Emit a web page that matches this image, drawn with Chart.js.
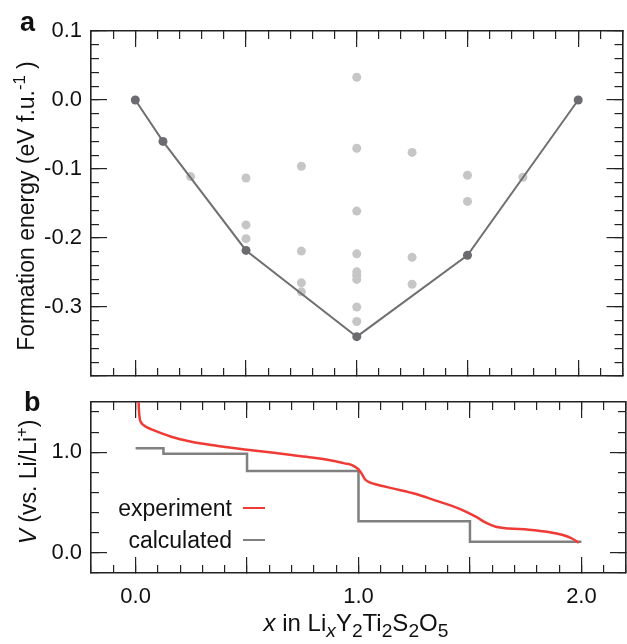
<!DOCTYPE html>
<html>
<head>
<meta charset="utf-8">
<script src="https://cdn.jsdelivr.net/npm/chart.js@4.4.1/dist/chart.umd.min.js"></script>
<style>
html,body{margin:0;padding:0;background:#fff;}
#wrap{position:relative;width:627px;height:644px;overflow:hidden;font-family:'Liberation Sans',Arial,Helvetica,sans-serif;color:#111;}
canvas{position:absolute;left:0;}
.t{position:absolute;white-space:nowrap;line-height:1;}
.rot{transform:translate(-50%,-50%) rotate(-90deg);}
.leg{position:absolute;white-space:nowrap;line-height:1;font-size:23px;text-align:right;}
.sw{position:absolute;height:0;}
sub,sup{font-size:0.72em;line-height:0;}
.xt sub{font-size:0.8em;}
</style>
</head>
<body>
<div id="wrap">
<canvas id="ca" width="627" height="390" style="top:0;width:627px;height:390px"></canvas>
<canvas id="cb" width="627" height="254" style="top:390px;width:627px;height:254px"></canvas>

<div class="t" style="left:20px;top:9px;font-weight:bold;font-size:27px;">a</div>
<div class="t" style="left:24px;top:389px;font-weight:bold;font-size:27px;">b</div>

<div class="t rot" style="left:26px;top:206px;font-size:23px;">Formation energy (eV f.u.<sup>-1</sup> )</div>
<div class="t rot" style="left:28px;top:482px;font-size:23px;"><i>V</i> (vs. Li/Li<sup>+</sup>)</div>
<div class="t xt" style="left:356px;top:611px;font-size:24px;transform:translateX(-50%);"><i>x</i> in Li<sub><i>x</i></sub>Y<sub>2</sub>Ti<sub>2</sub>S<sub>2</sub>O<sub>5</sub></div>

<div class="leg" style="right:395px;top:497px;">experiment</div>
<div class="sw" style="left:243px;width:22px;top:507px;border-top:2.5px solid #f03a35;"></div>
<div class="leg" style="right:395px;top:529px;">calculated</div>
<div class="sw" style="left:243px;width:22px;top:539px;border-top:2.5px solid #808080;"></div>
</div>

<script>
// ---------- data ----------
// panel a: convex hull (formation energy, eV per f.u.)
const hullX = [0, 0.125, 0.5, 1.0, 1.5, 2.0];
const hullE = [0, -0.06, -0.218, -0.343, -0.225, 0];
// panel a: other enumerated configurations
const otherX = [0.25, 0.5, 0.5, 0.5, 0.75, 0.75, 0.75, 0.75,
                1.0, 1.0, 1.0, 1.0, 1.0, 1.0, 1.0, 1.0, 1.0,
                1.25, 1.25, 1.25, 1.5, 1.5, 1.75];
const otherE = [-0.111, -0.113, -0.181, -0.201, -0.096, -0.219, -0.265, -0.278,
                0.033, -0.070, -0.161, -0.223, -0.249, -0.254, -0.260, -0.300, -0.321,
                -0.076, -0.228, -0.267, -0.109, -0.147, -0.112];
// panel b: experimental voltage curve
const expX = [0.012, 0.015, 0.019, 0.025, 0.033, 0.050, 0.080, 0.120, 0.160, 0.200,
              0.250, 0.340, 0.430, 0.520, 0.610, 0.700, 0.790, 0.878, 0.937, 0.962,
              0.985, 1.000, 1.015, 1.030, 1.050, 1.080, 1.153, 1.258, 1.347, 1.422,
              1.481, 1.526, 1.571, 1.616, 1.675, 1.764, 1.854, 1.913, 1.958, 1.988];
const expV = [1.60, 1.42, 1.33, 1.295, 1.275, 1.250, 1.220, 1.185, 1.155, 1.130,
              1.105, 1.072, 1.045, 1.021, 0.997, 0.972, 0.948, 0.918, 0.890, 0.880,
              0.855, 0.830, 0.785, 0.730, 0.700, 0.680, 0.641, 0.585, 0.519, 0.465,
              0.411, 0.360, 0.300, 0.259, 0.243, 0.230, 0.207, 0.181, 0.143, 0.100];
// panel b: calculated voltage steps (value holds until next x)
const calcX = [0, 0.125, 0.5, 1.0, 1.5, 2.0];
const calcV = [1.04, 0.985, 0.815, 0.315, 0.11, 0.11];
// tick labels
const xLabelValues = [0, 1, 2];
const eLabelValues = [0.1, 0, -0.1, -0.2, -0.3];
const vLabelValues = [0, 1];

// ---------- helpers ----------
const FONT = "'Liberation Sans', Arial, Helvetica, sans-serif";
const INK = '#222';
const pts = (xs, ys) => xs.map((x, i) => ({x: x, y: ys[i]}));
const has = (arr, v) => arr.some(a => Math.abs(a - v) < 1e-6);

function axis(id, pos, min, max, step, len, size, weight, labelVals, pad, border) {
  const horiz = (pos === 'top' || pos === 'bottom');
  return {
    type: 'linear', axis: horiz ? 'x' : 'y', position: pos, min: min, max: max, weight: weight,
    grid: {display: true, drawOnChartArea: false, drawTicks: true, tickLength: -len,
           lineWidth: 1.2, tickWidth: 1.2, color: INK, tickColor: INK},
    border: {display: border, color: INK, width: 1.6},
    ticks: {stepSize: step, autoSkip: false, includeBounds: false, maxRotation: 0, minRotation: 0,
            padding: pad, color: '#111', font: {family: FONT, size: 22},
            callback: function(v) {
              if (labelVals && has(labelVals, v)) { return (Math.abs(v) < 1e-9 ? 0 : v).toFixed(1); }
              return '';
            }},
    afterFit: function(s) {
      if (horiz) { s.height = size; } else { s.width = size; }
      s.paddingTop = 0; s.paddingBottom = 0; s.paddingLeft = 0; s.paddingRight = 0;
    }
  };
}

Chart.defaults.font.family = FONT;
Chart.defaults.animation = false;

// ---------- panel a ----------
new Chart(document.getElementById('ca'), {
  type: 'scatter',
  data: {
    datasets: [
      {label: 'hull', data: pts(hullX, hullE), showLine: true, borderColor: '#707072', borderWidth: 2,
       pointRadius: 4.5, pointBackgroundColor: '#6c6c70', pointBorderWidth: 0, xAxisID: 'x', yAxisID: 'y'},
      {label: 'configurations', data: pts(otherX, otherE), showLine: false,
       pointRadius: 4.5, pointBackgroundColor: '#c6c6c6', pointBorderWidth: 0, xAxisID: 'x', yAxisID: 'y'}
    ]
  },
  options: {
    responsive: false, maintainAspectRatio: false, animation: false,
    layout: {padding: 0},
    plugins: {legend: {display: false}, tooltip: {enabled: false}},
    scales: {
      x:   axis('x',   'bottom', -0.2, 2.2, 0.5, 16, 14, 10, null, 0, true),
      x2:  axis('x2',  'bottom', -0.2, 2.2, 0.1, 8, 0, 0, null, 0, false),
      xt:  axis('xt',  'top',    -0.2, 2.2, 0.5, 16, 31, 10, null, 0, true),
      xt2: axis('xt2', 'top',    -0.2, 2.2, 0.1, 8, 0, 0, null, 0, false),
      y:   axis('y',   'left',   -0.4, 0.1, 0.1, 16, 91, 10, eLabelValues, 25, true),
      y2:  axis('y2',  'left',   -0.4, 0.1, 0.02, 8, 0, 0, null, 0, false),
      yr:  axis('yr',  'right',  -0.4, 0.1, 0.1, 16, 1, 10, null, 0, true),
      yr2: axis('yr2', 'right',  -0.4, 0.1, 0.02, 8, 0, 0, null, 0, false)
    }
  }
});

// ---------- panel b ----------
new Chart(document.getElementById('cb'), {
  type: 'scatter',
  data: {
    datasets: [
      {label: 'experiment', data: pts(expX, expV), showLine: true, borderColor: '#f03a35', borderWidth: 2.5,
       pointRadius: 0, cubicInterpolationMode: 'monotone', clip: 0, xAxisID: 'x', yAxisID: 'y'},
      {label: 'calculated', data: pts(calcX, calcV), showLine: true, stepped: 'before', borderColor: '#808080',
       borderWidth: 2.5, pointRadius: 0, clip: 0, xAxisID: 'x', yAxisID: 'y'}
    ]
  },
  options: {
    responsive: false, maintainAspectRatio: false, animation: false,
    layout: {padding: 0},
    plugins: {legend: {display: false}, tooltip: {enabled: false}},
    scales: {
      x:   axis('x',   'bottom', -0.2, 2.2, 0.5, 16, 71, 10, xLabelValues, 27, true),
      x2:  axis('x2',  'bottom', -0.2, 2.2, 0.1, 8, 0, 0, null, 0, false),
      xt:  axis('xt',  'top',    -0.2, 2.2, 0.5, 16, 12, 10, null, 0, true),
      xt2: axis('xt2', 'top',    -0.2, 2.2, 0.1, 8, 0, 0, null, 0, false),
      y:   axis('y',   'left',   -0.2, 1.5, 1.0, 16, 91, 10, vLabelValues, 25, true),
      y2:  axis('y2',  'left',   -0.2, 1.5, 0.2, 8, 0, 0, null, 0, false),
      yr:  axis('yr',  'right',  -0.2, 1.5, 1.0, 16, 1, 10, null, 0, true),
      yr2: axis('yr2', 'right',  -0.2, 1.5, 0.2, 8, 0, 0, null, 0, false)
    }
  }
});
</script>
</body>
</html>
